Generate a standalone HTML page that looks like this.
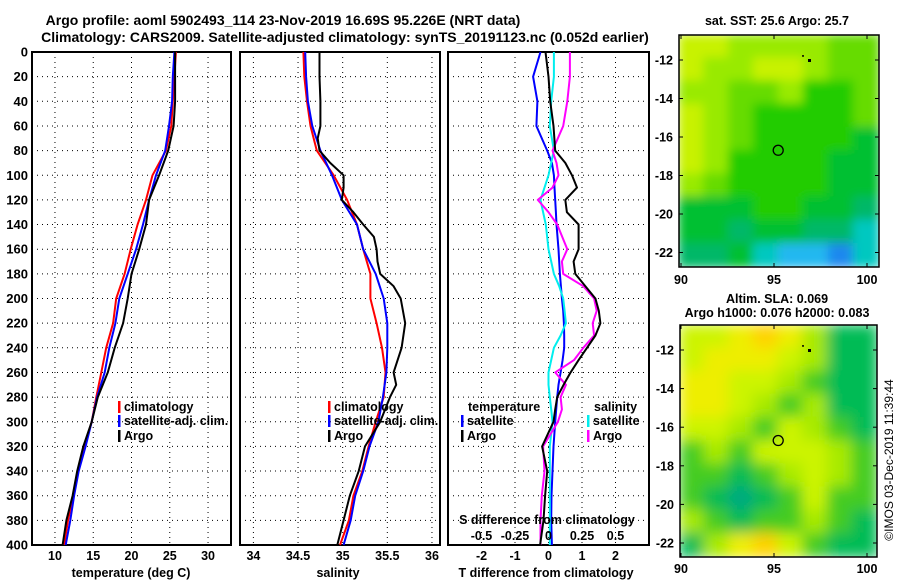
<!DOCTYPE html>
<html><head><meta charset="utf-8">
<style>
html,body{margin:0;padding:0;background:#fff;}
svg{display:block;font-family:"Liberation Sans",sans-serif;font-weight:bold;}
text{font-size:12.5px;fill:#000;}
</style></head>
<body>
<svg id="fig" width="900" height="580" viewBox="0 0 900 580">
<defs>
<filter id="blur1" x="0" y="0" width="1" height="1"><feGaussianBlur stdDeviation="5"/></filter>
<filter id="blur2" x="0" y="0" width="1" height="1"><feGaussianBlur stdDeviation="7"/></filter>
<clipPath id="clipm1"><rect x="679" y="35" width="200" height="232"/></clipPath>
<clipPath id="clipm2"><rect x="680" y="325" width="197" height="232"/></clipPath>
</defs>
<text x="283" y="25" text-anchor="middle" style="font-size:14px">Argo profile: aoml 5902493_114 23-Nov-2019 16.69S 95.226E (NRT data)</text>
<text x="345" y="42" text-anchor="middle" style="font-size:14px">Climatology: CARS2009. Satellite-adjusted climatology: synTS_20191123.nc (0.052d earlier)</text>
<text x="777" y="25" text-anchor="middle">sat. SST: 25.6 Argo: 25.7</text>
<text x="777" y="303" text-anchor="middle">Altim. SLA: 0.069</text>
<text x="777" y="317" text-anchor="middle">Argo h1000: 0.076 h2000: 0.083</text>
<text transform="translate(893,460) rotate(-90)" text-anchor="middle" style="font-size:12px;font-weight:normal">©IMOS 03-Dec-2019 11:39:44</text>
<g id="panels"></g>
<g id="maps"></g>
</svg>
<script>
// ---- data ----
const depths = [0,20,40,60,80,100,120,140,160,180,200,220,240,260,280,300,320,340,360,380,400];
const tempClim = [25.8,25.6,25.4,25.2,24.5,22.75,21.9,20.8,19.9,19.1,18.0,17.6,16.7,16.05,15.4,14.8,13.9,13.0,12.4,11.7,11.2];
const tempSat  = [25.6,25.4,25.3,24.9,24.4,23.2,22.3,21.5,20.6,19.5,18.4,17.9,17.1,16.5,15.5,14.8,14.0,13.1,12.5,12.0,11.4];
const tempArgo = [25.7,25.7,25.7,25.5,24.8,23.6,22.3,21.9,21.0,20.0,19.5,18.9,17.8,16.9,15.6,14.8,13.7,12.9,12.3,11.5,11.0];
const salClim = [34.56,34.57,34.6,34.64,34.71,34.9,35.05,35.16,35.23,35.31,35.31,35.38,35.44,35.48,35.46,35.37,35.29,35.22,35.12,35.07,34.97];
const salSat  = [34.58,34.59,34.61,34.66,34.75,34.88,34.99,35.16,35.23,35.37,35.46,35.5,35.5,35.49,35.45,35.4,35.3,35.23,35.14,35.09,35.01];
const argoSalDepths = [0,20,40,60,70,80,90,100,110,120,130,140,150,160,170,180,190,200,220,240,260,270,280,300,320,340,360,380,400];
const salArgo = [34.74,34.74,34.75,34.75,34.72,34.74,34.86,35.01,35.01,34.99,35.12,35.23,35.35,35.38,35.39,35.42,35.57,35.65,35.7,35.66,35.57,35.6,35.53,35.42,35.25,35.18,35.08,35.01,34.94];
const dDepths = [0,20,40,60,80,90,100,110,120,130,140,160,170,180,190,200,210,220,230,240,250,260,270,280,290,300,320,340,360,380,400];
const dTArgo = [-0.09,0,0.05,0.15,0.2,0.5,0.7,0.85,0.5,0.55,0.9,0.9,0.75,0.8,1.1,1.4,1.5,1.55,1.4,1.15,0.9,0.66,0.45,0.26,0.2,0.15,-0.19,-0.04,-0.1,-0.15,-0.25];
const dTSat  = [-0.24,-0.46,-0.33,-0.36,-0.04,0.1,0.16,0.18,0.2,0.22,0.24,0.3,0.32,0.34,0.37,0.4,0.44,0.46,0.47,0.47,0.42,0.36,0.3,0.26,0.23,0.2,0.15,0.12,0.09,0.08,0.1];
const dSArgo = [0.16,0.16,0.14,0.11,0.03,0.06,0.075,0.03,-0.08,0,0.065,0.14,0.1,0.11,0.26,0.34,0.36,0.33,0.34,0.26,0.19,0.05,0.13,0.09,0.1,0.07,-0.04,-0.03,-0.05,-0.06,-0.06];
const dSSat  = [0.04,0.04,0.02,0.01,0.04,0.02,0,-0.03,-0.06,-0.04,-0.02,0,0.02,0.04,0.08,0.11,0.12,0.13,0.09,0.04,0.02,0,0,0.01,0.02,0.03,0.01,0.01,0.01,0.01,0.01];
const depthTicks = [0,20,40,60,80,100,120,140,160,180,200,220,240,260,280,300,320,340,360,380,400];
const tempTicks = [10,15,20,25,30];
const salTicks = [34,34.5,35,35.5,36];
const salTickLabels = ["34","34.5","35","35.5","36"];
const dTTicks = [-2,-1,0,1,2];
const dSTicks = [-0.5,-0.25,0,0.25,0.5];
const dSTickLabels = ["-0.5","-0.25","0","0.25","0.5"];

const NS='http://www.w3.org/2000/svg';
function mk(tag,attrs,parent){const e=document.createElementNS(NS,tag);for(const k in attrs)e.setAttribute(k,attrs[k]);parent.appendChild(e);return e;}
const Y0=52,Y1=545;
const yD = d => Y0 + d/400*(Y1-Y0);
function lin(d0,d1,r0,r1){return v=>r0+(v-d0)/(d1-d0)*(r1-r0);}
const xT = lin(7,33,32,231);
const xS = lin(33.85,36.09,240,440);
const xDT = lin(-3,3,448,649);
const xDS = lin(-0.75,0.75,448,649);
const G=document.getElementById('panels');

function panel(name,x0,x1,ticks,fx,labels){
  const g=mk('g',{},G);
  
  
  depthTicks.forEach(d=>{ if(d>0&&d<400){const l=mk('line',{x1:x0,x2:x1,y1:yD(d),y2:yD(d),stroke:'#000','stroke-width':1,'stroke-dasharray':'1 4'},g);
    
    }});
  ticks.forEach((t,i)=>{const x=fx(t);const l=mk('line',{x1:x,x2:x,y1:Y0,y2:Y1,stroke:'#000','stroke-width':1,'stroke-dasharray':'1 4'},g);
    
    
    if(labels){const tx=mk('text',{x:x,y:560,'text-anchor':'middle'},g);tx.textContent=labels[i];
    
    }});
  const r=mk('rect',{x:x0,y:Y0,width:x1-x0,height:Y1-Y0,fill:'none',stroke:'#000','stroke-width':2},g);
  
  
  return g;
}
function series(g,name,ds,vs,fx,color,w){
  const pts=ds.map((d,i)=>fx(vs[i]).toFixed(1)+','+yD(d).toFixed(1)).join(' ');
  const p=mk('polyline',{points:pts,fill:'none',stroke:color,'stroke-width':w||2,'stroke-linejoin':'round'},g);
  
  
}
function txt(g,x,y,s,name,anchor){const t=mk('text',{x:x,y:y,'text-anchor':anchor||'start'},g);t.textContent=s;
  
  return t;}
function legend(g,x,y,color,label,name){
  const b=mk('rect',{x:x,y:y-10,width:2.5,height:12,fill:color},g);
  
  
  txt(g,x+6,y,label,name);
}

// depth labels
depthTicks.forEach(d=>{const t=txt(G,28,yD(d)+4.5,String(d),'y-tick-label','end');t.setAttribute('style','font-size:13px');});

// panel 1 temperature
const p1=panel('temperature-panel',32,231,tempTicks,xT,tempTicks.map(String));
series(p1,'temp-climatology-line',depths,tempClim,xT,'#f00');
series(p1,'temp-satellite-line',depths,tempSat,xT,'#00f');
series(p1,'temp-argo-line',depths,tempArgo,xT,'#000');
legend(p1,118,411,'#f00','climatology','legend-climatology');
legend(p1,118,425,'#00f','satellite-adj. clim.','legend-satellite');
legend(p1,118,440,'#000','Argo','legend-argo');
txt(p1,131,577,'temperature (deg C)','x-axis-title-temperature','middle');

// panel 2 salinity
const p2=panel('salinity-panel',240,440,salTicks,xS,salTickLabels);
series(p2,'sal-climatology-line',depths,salClim,xS,'#f00');
series(p2,'sal-satellite-line',depths,salSat,xS,'#00f');
series(p2,'sal-argo-line',argoSalDepths,salArgo,xS,'#000');
legend(p2,328,411,'#f00','climatology','legend-climatology');
legend(p2,328,425,'#00f','satellite-adj. clim.','legend-satellite');
legend(p2,328,440,'#000','Argo','legend-argo');
txt(p2,338,577,'salinity','x-axis-title-salinity','middle');

// panel 3 differences
const p3=panel('difference-panel',448,649,dTTicks,xDT,dTTicks.map(String));
series(p3,'dT-satellite-line',dDepths,dTSat,xDT,'#00f');
series(p3,'dS-satellite-line',dDepths,dSSat,xDS,'#0ee');
series(p3,'dS-argo-line',dDepths,dSArgo,xDS,'#f0f');
series(p3,'dT-argo-line',dDepths,dTArgo,xDT,'#000');
txt(p3,468,411,'temperature','legend-temperature-header');
legend(p3,461,425,'#00f','satellite','legend-temp-satellite');
legend(p3,461,440,'#000','Argo','legend-temp-argo');
txt(p3,594,411,'salinity','legend-salinity-header');
legend(p3,587,425,'#0ee','satellite','legend-sal-satellite');
legend(p3,587,440,'#f0f','Argo','legend-sal-argo');
txt(p3,547,524,'S difference from climatology','s-axis-title','middle');
dSTicks.forEach((t,i)=>{txt(p3,xDS(t),540,dSTickLabels[i],'s-tick-label','middle');});
txt(p3,546,577,'T difference from climatology','x-axis-title-tdiff','middle');

// ---- maps ----
const M=document.getElementById('maps');
const pal1={a:'#c8f200',b:'#99ea00',c:'#66dc00',d:'#22cc00',e:'#00c030',f:'#00b868',g:'#00c8c0',h:'#20b8f0',i:'#1a88ee'};
const grid1=["aabbbbcc","abbaabcc","bbccbddc","abcddddc","abcdddde","abddddee","bcddddee","eeeddeef","eefeeffg","ffeghhig"];
const pal2={Y:'#ffd200',y:'#eeee00',a:'#ccf400',b:'#a8ea00',d:'#44cc22',e:'#00bb55',f:'#00aa80'};
const grid2=["aayYybee","ayyyabee","yyaabdee","yyabdbee","aabdabde","dbdaaabd","ddedbabd","defedadd","bdeddbde","ebyYadee"];
function drawMap(name,x0,y0,w,h,grid,pal,clip,filt){
  const g=mk('g',{'clip-path':'url(#'+clip+')'},M);
  
  
  const inner=mk('g',{filter:'url(#'+filt+')'},g);
  const rows=grid.length, cols=grid[0].length, cw=w/cols, ch=h/rows;
  mk('rect',{x:x0,y:y0,width:w,height:h,fill:pal[grid[5][4]]},inner);
  grid.forEach((row,r)=>{[...row].forEach((k,c)=>{mk('rect',{x:x0+c*cw-1,y:y0+r*ch-1,width:cw+2,height:ch+2,fill:pal[k]},inner);});});
}
drawMap('sst-map',679,35,200,232,grid1,pal1,'clipm1','blur1');
drawMap('sla-map',680,325,197,232,grid2,pal2,'clipm2','blur2');
const lats1=[-12,-14,-16,-18,-20,-22];
const lons=[90,95,100];
function mapAxes(name,x0,y0,w,h,latY,lonLabelY){
  const g=mk('g',{},M);
  
  
  const r=mk('rect',{x:x0,y:y0,width:w,height:h,fill:'none',stroke:'#000','stroke-width':1.5},g);
  
  
  lats1.forEach(l=>{const y=latY(l);
    mk('line',{x1:x0,x2:x0+4,y1:y,y2:y,stroke:'#000'},g);
    mk('line',{x1:x0+w-4,x2:x0+w,y1:y,y2:y,stroke:'#000'},g);
    txt(g,x0-6,y+4.5,String(l),'lat-tick-label','end');});
  lons.forEach(l=>{const x=681+(l-90)*18.6;
    mk('line',{x1:x,x2:x,y1:y0,y2:y0+4,stroke:'#000'},g);
    mk('line',{x1:x,x2:x,y1:y0+h-4,y2:y0+h,stroke:'#000'},g);
    txt(g,x,lonLabelY,String(l),'lon-tick-label','middle');});
  const lon=95.226, lat=-16.69;
  const c=mk('circle',{cx:681+(lon-90)*18.6,cy:latY(lat),r:5,fill:'none',stroke:'#000','stroke-width':1.3},g);
  
  
  mk('rect',{x:802,y:latY(-11.75),width:2,height:1.5,fill:'#000'},g);
  mk('rect',{x:808,y:latY(-12.0)-1,width:3,height:3,fill:'#000'},g);
}
mapAxes('sst-map-axes',679,35,200,232,l=>60+(-12-l)*19.25,284);
mapAxes('sla-map-axes',680,325,197,232,l=>350+(-12-l)*19.3,573);
</script>
</body></html>
